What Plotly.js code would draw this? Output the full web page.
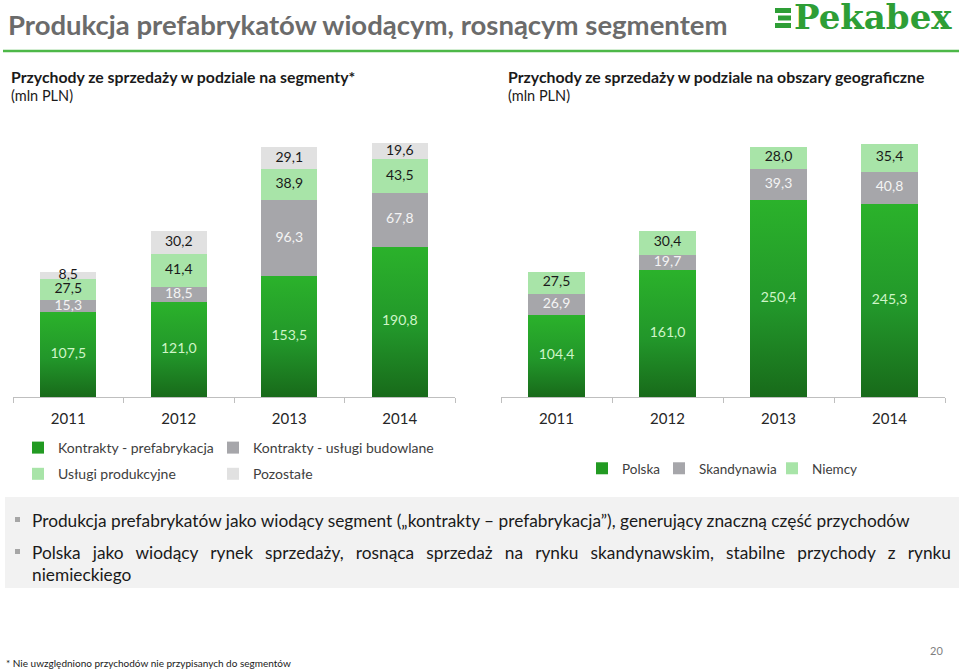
<!DOCTYPE html>
<html><head><meta charset="utf-8">
<script src="https://cdn.plot.ly/plotly-3.0.1.min.js"></script>
<style>html,body{margin:0;padding:0;background:#fff;}#chart{width:959px;height:671px;}</style>
</head><body><div id="chart"></div>
<script>
// ---- data ----
const years = ['2011', '2012', '2013', '2014'];
const segNames = ['Kontrakty - prefabrykacja', 'Kontrakty - usługi budowlane', 'Usługi produkcyjne', 'Pozostałe'];
const segPrefab = [107.5, 121.0, 153.5, 190.8];
const segBudowlane = [15.3, 18.5, 96.3, 67.8];
const segProdukcyjne = [27.5, 41.4, 38.9, 43.5];
const segPozostale = [8.5, 30.2, 29.1, 19.6];
const geoNames = ['Polska', 'Skandynawia', 'Niemcy'];
const geoPolska = [104.4, 161.0, 250.4, 245.3];
const geoSkandynawia = [26.9, 19.7, 39.3, 40.8];
const geoNiemcy = [27.5, 30.4, 28.0, 35.4];

// ---- styles ----
const FONT = 'Lato, "Open Sans", sans-serif';
const GREEN = '#229A22', GRAY = '#A6A6AA', LGREEN = '#A8E4A8', LGRAY = '#E1E1E1';
const TXT_ON = {green: '#CFF5C8', gray: '#F4F4F4', light: '#1A1A1A'};

// layout geometry helpers (pixel -> paper)
const W = 959, H = 671, MT = 130, MB = 274;
const PH = H - MT - MB;
const px = x => x / W;
const py = y => (H - MB - y) / PH;

const fmt = v => v.toFixed(1).replace('.', ',');

const data = [];
function stack(series, names, colors, txtColors, xa, ya, legends, groups) {
  const base = years.map(() => 0);
  series.forEach((s, i) => {
    data.push({
      type: 'bar', x: years, y: s, name: names[i], xaxis: xa, yaxis: ya,
      marker: {color: colors[i], line: {width: 0}},
      legend: legends[i], legendgroup: groups[i],
      hoverinfo: 'skip'
    });
    const mid = s.map((v, k) => base[k] + v / 2);
    data.push({
      type: 'scatter', mode: 'text', x: years, y: mid, text: s.map(fmt),
      textposition: 'middle center', xaxis: xa, yaxis: ya,
      textfont: {family: FONT, size: 14, color: txtColors[i]},
      showlegend: false, hoverinfo: 'skip'
    });
    s.forEach((v, k) => base[k] += v);
  });
}
stack([segPrefab, segBudowlane, segProdukcyjne, segPozostale], segNames,
  [GREEN, GRAY, LGREEN, LGRAY], [TXT_ON.green, TXT_ON.gray, TXT_ON.light, TXT_ON.light],
  'x', 'y', ['legend', 'legend2', 'legend', 'legend2'], ['a', 'b', 'c', 'd']);
stack([geoPolska, geoSkandynawia, geoNiemcy], geoNames,
  [GREEN, GRAY, LGREEN], [TXT_ON.green, TXT_ON.gray, TXT_ON.light],
  'x2', 'y2', ['legend3', 'legend4', 'legend5'], ['e', 'f', 'g']);

const xaxisBase = {
  type: 'category', range: [-0.5, 3.5], showgrid: false, zeroline: false,
  showline: true, linecolor: '#BFBFBF', linewidth: 1,
  ticks: 'outside', tickson: 'boundaries', ticklen: 5, tickcolor: '#BFBFBF',
  ticklabelstandoff: 8,
  tickfont: {family: FONT, size: 15, color: '#262626'}, fixedrange: true
};
const yaxisBase = {visible: false, range: [0, 338.8], fixedrange: true};

function leg(xText, yTop, size) {
  return {
    x: px(xText - 40), xanchor: 'left', y: py(yTop), yanchor: 'top',
    font: {family: FONT, size: size, color: '#404040'}, bgcolor: 'rgba(0,0,0,0)', borderwidth: 0,
    traceorder: 'grouped', tracegroupgap: 5, orientation: 'v'
  };
}

const layout = {
  width: W, height: H,
  margin: {l: 0, r: 0, t: MT, b: MB, pad: 0},
  paper_bgcolor: '#FFFFFF', plot_bgcolor: 'rgba(0,0,0,0)',
  barmode: 'stack', bargap: 0.49,
  font: {family: FONT},
  title: {
    text: 'Produkcja prefabrykatów wiodącym, rosnącym segmentem',
    font: {family: FONT, size: 27.5, color: '#6B6B6B', weight: 'bold'},
    x: px(8), xanchor: 'left', xref: 'container',
    y: 1 - 25 / H, yanchor: 'middle', yref: 'container'
  },
  xaxis: Object.assign({}, xaxisBase, {domain: [px(13), px(455)], anchor: 'y'}),
  yaxis: Object.assign({}, yaxisBase, {anchor: 'x'}),
  xaxis2: Object.assign({}, xaxisBase, {domain: [px(501), px(945)], anchor: 'y2'}),
  yaxis2: Object.assign({}, yaxisBase, {anchor: 'x2'}),
  showlegend: true,
  legend: leg(58, 432, 14),
  legend2: leg(253, 432, 14),
  legend3: leg(622, 453, 13.5),
  legend4: leg(699, 453, 13.5),
  legend5: leg(812, 453, 13.5),
  shapes: [
    {type: 'line', xref: 'paper', yref: 'paper', x0: px(3), x1: 1, y0: py(51), y1: py(51),
     line: {color: '#4DB848', width: 2.5}},
    {type: 'rect', xref: 'paper', yref: 'paper', x0: px(5), x1: px(959), y0: py(497), y1: py(588),
     fillcolor: '#F2F2F2', line: {width: 0}, layer: 'below'},
    {type: 'rect', xref: 'paper', yref: 'paper', x0: px(15), x1: px(20), y0: py(517), y1: py(522),
     fillcolor: '#A6A6A6', line: {width: 0}},
    {type: 'rect', xref: 'paper', yref: 'paper', x0: px(15), x1: px(20), y0: py(549), y1: py(554),
     fillcolor: '#A6A6A6', line: {width: 0}},
    // logo stripes
    {type: 'rect', xref: 'paper', yref: 'paper', x0: px(775), x1: px(791), y0: py(8), y1: py(13),
     fillcolor: '#2E9E36', line: {width: 0}},
    {type: 'rect', xref: 'paper', yref: 'paper', x0: px(778), x1: px(791), y0: py(15.5), y1: py(20.5),
     fillcolor: '#2E9E36', line: {width: 0}},
    {type: 'rect', xref: 'paper', yref: 'paper', x0: px(775), x1: px(791), y0: py(23), y1: py(28),
     fillcolor: '#2E9E36', line: {width: 0}}
  ],
  annotations: [
    {text: 'Pekabex', xref: 'paper', yref: 'paper', x: px(792), y: py(17), xanchor: 'left', yanchor: 'middle',
     showarrow: false, font: {family: '"DejaVu Serif", serif', size: 34, color: '#2E9E36', weight: 'bold'}},
    {text: '<b>Przychody ze sprzedaży w podziale na segmenty*</b>', xref: 'paper', yref: 'paper',
     x: px(9), y: py(77), xanchor: 'left', yanchor: 'middle', align: 'left', showarrow: false,
     font: {family: FONT, size: 15.8, color: '#1A1A1A'}},
    {text: '(mln PLN)', xref: 'paper', yref: 'paper',
     x: px(9), y: py(96), xanchor: 'left', yanchor: 'middle', align: 'left', showarrow: false,
     font: {family: FONT, size: 14.5, color: '#1A1A1A'}},
    {text: '<b>Przychody ze sprzedaży w podziale na obszary geograficzne</b>', xref: 'paper', yref: 'paper',
     x: px(506), y: py(77), xanchor: 'left', yanchor: 'middle', align: 'left', showarrow: false,
     font: {family: FONT, size: 15.8, color: '#1A1A1A'}},
    {text: '(mln PLN)', xref: 'paper', yref: 'paper',
     x: px(506), y: py(96), xanchor: 'left', yanchor: 'middle', align: 'left', showarrow: false,
     font: {family: FONT, size: 14.5, color: '#1A1A1A'}},
    {text: 'Produkcja prefabrykatów jako wiodący segment („kontrakty – prefabrykacja”), generujący znaczną część przychodów',
     xref: 'paper', yref: 'paper', x: px(30), y: py(520), xanchor: 'left', yanchor: 'middle', align: 'left',
     showarrow: false, font: {family: FONT, size: 17.3, color: '#1A1A1A'}},
    {text: 'Polska jako wiodący rynek sprzedaży, rosnąca sprzedaż na rynku skandynawskim, stabilne przychody z rynku<br>niemieckiego',
     xref: 'paper', yref: 'paper', x: px(30), y: py(540), xanchor: 'left', yanchor: 'top', align: 'left',
     showarrow: false, font: {family: FONT, size: 17.3, color: '#1A1A1A'}},
    {text: '* Nie uwzględniono przychodów nie przypisanych do segmentów', xref: 'paper', yref: 'paper',
     x: px(4), y: py(663), xanchor: 'left', yanchor: 'middle', showarrow: false,
     font: {family: FONT, size: 10, color: '#1A1A1A'}},
    {text: '20', xref: 'paper', yref: 'paper', x: px(945), y: py(650), xanchor: 'right', yanchor: 'middle',
     showarrow: false, font: {family: FONT, size: 11, color: '#7F7F7F'}}
  ]
};

Plotly.newPlot('chart', data, layout, {staticPlot: true, displayModeBar: false}).then(gd => {
  const svg = gd.querySelector('.main-svg');
  const NS = 'http://www.w3.org/2000/svg';
  const defs = svg.querySelector('defs');
  const g = document.createElementNS(NS, 'linearGradient');
  g.setAttribute('id', 'pkgrad');
  g.setAttribute('x1', '0'); g.setAttribute('y1', '0'); g.setAttribute('x2', '0'); g.setAttribute('y2', '1');
  [['0', '#2BB22B'], ['0.55', '#22962A'], ['1', '#186A1A']].forEach(([o, c]) => {
    const s = document.createElementNS(NS, 'stop');
    s.setAttribute('offset', o); s.setAttribute('stop-color', c);
    g.appendChild(s);
  });
  defs.appendChild(g);
  gd.querySelectorAll('.barlayer .point path').forEach(p => {
    if (p.style.fill === 'rgb(34, 154, 34)') p.style.fill = 'url(#pkgrad)';
  });
  // justify the first line of the second bullet (as in the slide)
  gd.querySelectorAll('.annotation-text').forEach(t => {
    const lines = t.querySelectorAll('tspan.line');
    if (lines.length === 2 && t.textContent.indexOf('Polska') === 0) {
      const l = lines[0];
      const len = l.getComputedTextLength();
      const spaces = (l.textContent.match(/ /g) || []).length;
      const target = 950 - 31;
      if (spaces > 0 && target > len) l.setAttribute('word-spacing', ((target - len) / spaces).toFixed(2));
    }
  });
});
</script></body></html>
